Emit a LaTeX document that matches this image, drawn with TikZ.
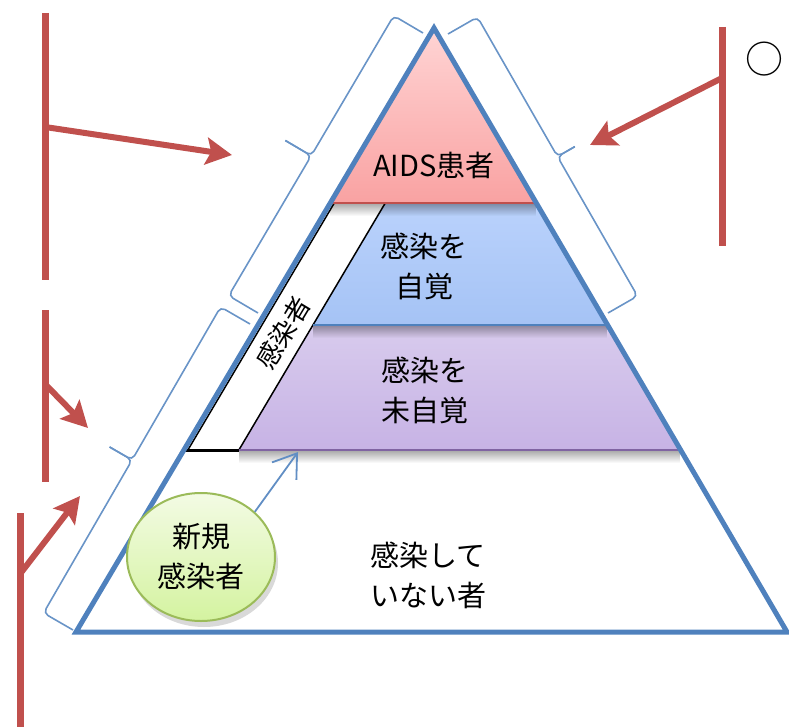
\documentclass[tikz,border=0pt]{standalone}
\usepackage{fontspec}
\setmainfont{Noto Sans CJK JP}
\usetikzlibrary{calc, arrows.meta, shapes.geometric, fadings, shadows}

\definecolor{edgeblue}{HTML}{4F81BD}
\definecolor{barred}{HTML}{C0504D}
\definecolor{leafgreen}{HTML}{9BBB59}
\definecolor{lavender}{HTML}{8064A2}
\definecolor{pinktop}{HTML}{FFD4D4}
\definecolor{pinkbottom}{HTML}{F9A2A2}
\definecolor{skytop}{HTML}{BAD2FC}
\definecolor{skybottom}{HTML}{A5C3F5}
\definecolor{lilactop}{HTML}{D8CBED}
\definecolor{lilacbottom}{HTML}{C7B3E5}
\definecolor{limetop}{HTML}{F3FBE4}
\definecolor{limebottom}{HTML}{D4F3A0}
\tikzfading[name=shadowfade, top color=transparent!0, bottom color=transparent!100]

\tikzset{
    redbar/.style={barred, line width=7pt},
    redarrow/.style={barred, line width=6pt, -{Stealth[length=26pt, width=27pt, inset=5pt]}},
    bracket/.style={edgeblue!85, line width=1.6pt, rounded corners=5pt},
    tiertext/.style={font=\fontsize{29}{40}\selectfont, align=center, inner sep=0pt},
    bandshadow/.style={black, opacity=.35, path fading=shadowfade}
}

\begin{document}
\begin{tikzpicture}[x=1pt, y=-1pt]

    \useasboundingbox (0,0) rectangle (789,727);

    \coordinate (apex) at (434,28);
    \coordinate (bl) at (76,632);
    \coordinate (br) at (787,632);
    \foreach \t [count=\i] in {0.2897,0.4917,0.6987} {
        \coordinate (l\i) at ($(apex)!\t!(bl)$);
        \coordinate (r\i) at ($(apex)!\t!(br)$);
        \coordinate (s\i) at ($(l\i)+(55,0)$);
    }

    \shade[top color=pinktop, bottom color=pinkbottom] (apex) -- (r1) -- (l1) -- cycle;
    \shade[top color=skytop, bottom color=skybottom] (s1) -- (r1) -- (r2) -- (s2) -- cycle;
    \shade[top color=lilactop, bottom color=lilacbottom] (s2) -- (r2) -- (r3) -- (s3) -- cycle;
    \fill[white] (l1) -- (s1) -- (s3) -- (l3) -- cycle;

    \begin{scope}
        \clip (apex) -- (br) -- (bl) -- cycle;
        \fill[bandshadow] (l1) rectangle ($(r1)+(0,13)$);
        \fill[bandshadow] (s2) rectangle ($(r2)+(0,13)$);
        \fill[bandshadow] (s3) rectangle ($(r3)+(0,13)$);
    \end{scope}

    \draw[line width=1.5pt] ($(l1)+(4,0)$) -- ($(l3)+(4,0)$) (s1) -- (s3);
    \draw[line width=3pt] (l3) -- (s3);
    \draw[barred, line width=2.5pt] (l1) -- (r1);
    \draw[edgeblue, line width=2.5pt] (s2) -- (r2);
    \draw[lavender, line width=2.5pt] (s3) -- (r3);
    \draw[edgeblue, line width=5pt] (apex) -- (br) -- (bl) -- cycle;

    \node[tiertext] (aids) at (434,165) {AIDS患者};
    \node[tiertext] (aware) at (424,266) {感染を\\自覚};
    \node[tiertext] (unaware) at (425,390) {感染を\\未自覚};
    \node[tiertext] (healthy) at (428,575) {感染して\\いない者};
    \node[tiertext, font=\fontsize{26}{30}\selectfont, rotate=59] (carrier) at (283,333) {感染者};

    \node[tiertext, ellipse, minimum width=148pt, minimum height=128pt, draw=leafgreen, line width=2pt,
        top color=limetop, bottom color=limebottom,
        drop shadow={opacity=.3, shadow xshift=3pt, shadow yshift=-6pt}] (newcase) at (201,557) {新規\\感染者};
    \coordinate (newtip) at (298,452);
    \draw[edgeblue!90, line width=1.8pt, -{Straight Barb[length=22pt, width=30pt]}] (newcase.40) -- (newtip);

    \coordinate (lbs) at (258,313);
    \coordinate (lbe) at (423,33);
    \coordinate (mbs) at (73,630);
    \coordinate (mbe) at (250,324);
    \coordinate (rbs) at (448,34);
    \coordinate (rbe) at (608,313);
    \foreach \s/\e/\d [count=\i] in {lbs/lbe/30pt, mbs/mbe/26pt, rbs/rbe/20pt} {
        \coordinate (k\i a) at ($(\s)!34pt!90:(\e)$);
        \coordinate (k\i b) at ($(\e)!34pt!-90:(\s)$);
        \coordinate (k\i m) at ($(k\i a)!.5!(k\i b)$);
        \coordinate (k\i t) at ($(k\i m)!\d!90:(k\i b)$);
        \draw[bracket] (\s) -- (k\i a) -- (k\i m) -- (k\i t);
        \draw[bracket] (k\i t) -- (k\i m) -- (k\i b) -- (\e);
    }

    \foreach \x/\ya/\yb/\ys/\tx/\ty [count=\i] in {45/13/280/127/232/155, 45/310/482/384/88/428, 20/513/740/574/80/496, 722/27/246/78/590/145} {
        \coordinate (bar\i a) at (\x,\ya);
        \coordinate (bar\i b) at (\x,\yb);
        \coordinate (bar\i s) at (\x,\ys);
        \coordinate (bar\i t) at (\tx,\ty);
        \draw[redbar] (bar\i a) -- (bar\i b);
        \draw[redarrow] (bar\i s) -- (bar\i t);
    }

    \node[inner sep=0pt, font=\fontsize{38}{40}\selectfont] (mark) at (764,59) {○};

\end{tikzpicture}
\end{document}
